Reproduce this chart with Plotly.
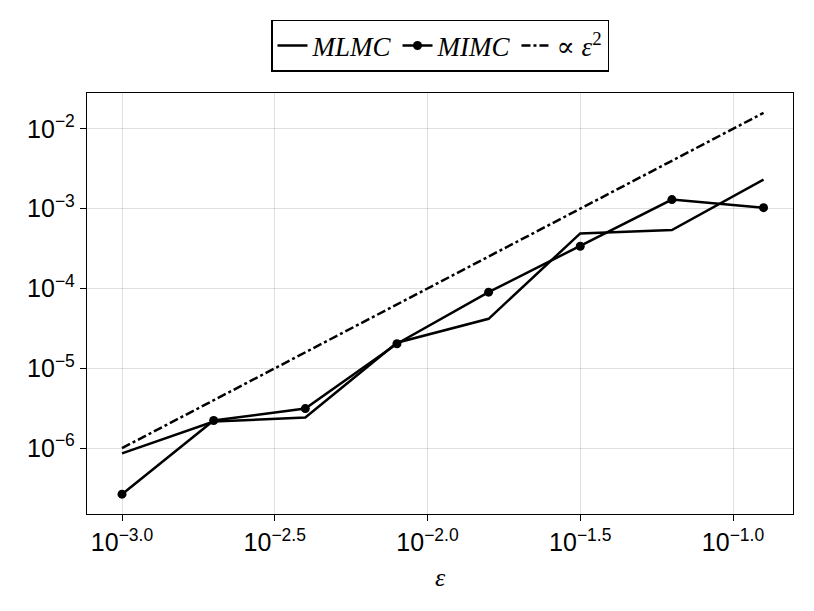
import plotly.graph_objects as go

eps = [10**-3.0, 10**-2.7, 10**-2.4, 10**-2.1, 10**-1.8, 10**-1.5, 10**-1.2, 10**-0.9]
mlmc = [8.6e-7, 2.16e-6, 2.42e-6, 2.09e-5, 4.17e-5, 4.9e-4, 5.4e-4, 2.31e-3]
mimc = [2.65e-7, 2.22e-6, 3.13e-6, 2.03e-5, 9.0e-5, 3.38e-4, 1.30e-3, 1.03e-3]
ref = [e**2 for e in eps]

xtickvals = [10**-3.0, 10**-2.5, 10**-2.0, 10**-1.5, 10**-1.0]
xticktext = ["10<sup>−3.0</sup>", "10<sup>−2.5</sup>", "10<sup>−2.0</sup>", "10<sup>−1.5</sup>", "10<sup>−1.0</sup>"]
ytickvals = [1e-6, 1e-5, 1e-4, 1e-3, 1e-2]
yticktext = ["10<sup>−6</sup>", "10<sup>−5</sup>", "10<sup>−4</sup>", "10<sup>−3</sup>", "10<sup>−2</sup>"]

fig = go.Figure()
fig.add_trace(go.Scatter(x=eps, y=mlmc, mode="lines", name="<i>MLMC</i>",
                         line=dict(color="black", width=2.5)))
fig.add_trace(go.Scatter(x=eps, y=mimc, mode="lines+markers", name="<i>MIMC</i>",
                         line=dict(color="black", width=2.5),
                         marker=dict(color="black", size=9)))
fig.add_trace(go.Scatter(x=eps, y=ref, mode="lines", name="∝ <i>ε</i><sup>2</sup>",
                         line=dict(color="black", width=2.5, dash="dashdot")))

axis_common = dict(showline=True, linecolor="black", linewidth=1.3, mirror=True,
                   ticks="outside", ticklen=6, tickcolor="black", tickwidth=1,
                   showgrid=True, gridcolor="rgba(0,0,0,0.12)", gridwidth=1,
                   zeroline=False,
                   tickfont=dict(family="Liberation Sans, Arial, sans-serif", size=25, color="black"))

fig.update_layout(
    width=806, height=603,
    margin=dict(l=79, r=21, t=83, b=97),
    paper_bgcolor="white", plot_bgcolor="white",
    showlegend=True,
    legend=dict(orientation="h", x=0.5, xanchor="center", y=1.05, yanchor="bottom",
                bordercolor="black", borderwidth=1.5,
                font=dict(family="Liberation Serif, DejaVu Serif, serif", size=27, color="black")),
    xaxis=dict(type="log", range=[-3.1146, -0.8036], tickvals=xtickvals, ticktext=xticktext,
               title=dict(text="<i>ε</i>", font=dict(family="Liberation Serif, serif", size=26, color="black"),
                          standoff=12),
               **axis_common),
    yaxis=dict(type="log", range=[-6.825, -1.551], tickvals=ytickvals, ticktext=yticktext,
               **axis_common),
)

fig.write_html("out.html")
